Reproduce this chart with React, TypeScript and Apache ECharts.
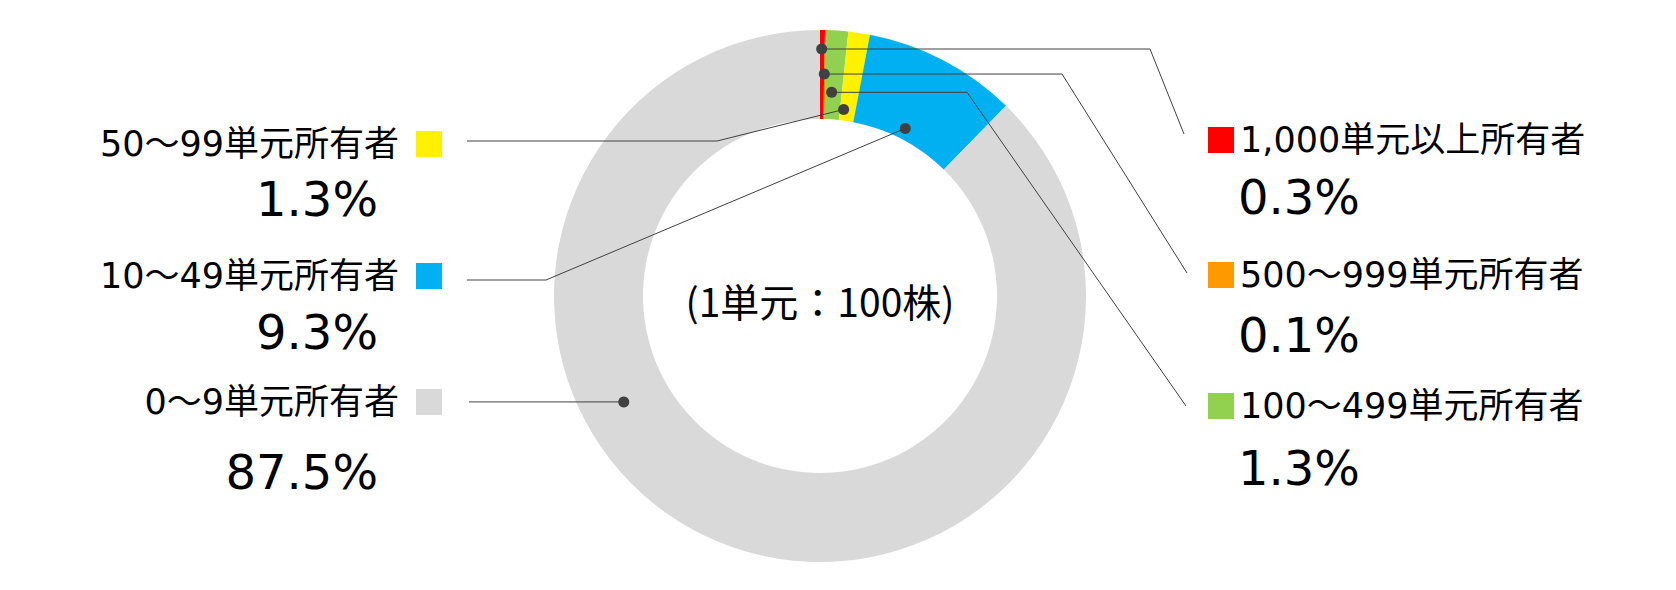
import React, { useEffect, useRef } from 'react';
import * as echarts from 'echarts';

// ---- data ----
const categories = [
  '1,000単元以上所有者',
  '500～999単元所有者',
  '100～499単元所有者',
  '50～99単元所有者',
  '10～49単元所有者',
  '0～9単元所有者',
];
const shares = [0.3, 0.1, 1.3, 1.3, 9.3, 87.5];
const sliceColors = ['#FF0000', '#FF9900', '#92D050', '#FFF100', '#00B0F0', '#D9D9D9'];
const centerNote = '(1単元：100株)';

// ---- layout (positions / styles, not data) ----
const CENTER = [820, 296];
const RADII = [177, 266];
const LINE_COLOR = '#404040';
const LABEL_FONT = "'DejaVu Sans', 'Noto Sans CJK JP', sans-serif";

type Side = 'left' | 'right';
interface LabelPlace {
  side: Side;
  anchorX: number; // square's outer edge
  squareY: number; // centre of first label line
  pctLineHeight: number;
  anchorFrac: number; // where inside the slice the leader line starts
  anchorR: number; // radial distance of the leader-line dot
  elbowX: number | null;
  end: [number, number | null];
}

const labelPlaces: LabelPlace[] = [
  { side: 'right', anchorX: 1208, squareY: 140, pctLineHeight: 74, anchorFrac: 0.36, anchorR: 247, elbowX: 1150, end: [1184, 134] },
  { side: 'right', anchorX: 1208, squareY: 275, pctLineHeight: 80, anchorFrac: 0.08, anchorR: 222, elbowX: 1062, end: [1187, 273] },
  { side: 'right', anchorX: 1208, squareY: 406, pctLineHeight: 84, anchorFrac: 0.39, anchorR: 204, elbowX: 967, end: [1186, 406] },
  { side: 'left', anchorX: 442, squareY: 144, pctLineHeight: 69, anchorFrac: 0.234, anchorR: 188, elbowX: 717, end: [467, 141] },
  { side: 'left', anchorX: 442, squareY: 276, pctLineHeight: 72, anchorFrac: 0.481, anchorR: 188, elbowX: 546, end: [467, 280] },
  { side: 'left', anchorX: 442, squareY: 402, pctLineHeight: 100, anchorFrac: 0.625, anchorR: 223, elbowX: null, end: [469, null] },
];

const total = shares.reduce((a, b) => a + b, 0);

function anchorPoint(i: number): [number, number] {
  let before = 0;
  for (let j = 0; j < i; j++) before += shares[j];
  const p = labelPlaces[i];
  const frac = (before + shares[i] * p.anchorFrac) / total;
  const theta = frac * Math.PI * 2;
  return [CENTER[0] + p.anchorR * Math.sin(theta), CENTER[1] - p.anchorR * Math.cos(theta)];
}

function leaderPoints(i: number): number[][] {
  const p = labelPlaces[i];
  const a = anchorPoint(i);
  if (p.side === 'right') {
    return [a, [p.elbowX as number, a[1]], [p.end[0], p.end[1] as number]];
  }
  if (p.elbowX == null) {
    const endY = p.end[1] == null ? a[1] : p.end[1];
    return [a, [p.end[0], endY]];
  }
  const y = p.end[1] as number;
  return [a, [p.elbowX, y], [p.end[0], y]];
}

function buildRich() {
  const rich: Record<string, any> = {
    name: { fontSize: 35, lineHeight: 40, fontFamily: LABEL_FONT, color: '#000' },
    gapR: { width: 6, height: 10, lineHeight: 10 },
    gapL: { width: 17, height: 10, lineHeight: 10 },
    padR: { width: 30, height: 10, lineHeight: 10 },
    padL: { width: 64, height: 10, lineHeight: 10 },
  };
  sliceColors.forEach((c, i) => {
    rich['sq' + i] = { width: 26, height: 26, backgroundColor: c };
    rich['pct' + i] = {
      fontSize: 48,
      lineHeight: labelPlaces[i].pctLineHeight,
      fontFamily: LABEL_FONT,
      color: '#000',
    };
  });
  return rich;
}

export default function App() {
  const ref = useRef<HTMLDivElement>(null);

  useEffect(() => {
    if (!ref.current) return;
    const chart = echarts.init(ref.current, null, { renderer: 'svg' });

    const data = categories.map((name, i) => ({
      name,
      value: shares[i],
      itemStyle: { color: sliceColors[i] },
    }));

    const leaders = categories.map((_, i) => ({
      type: 'polyline',
      z: 100,
      silent: true,
      shape: { points: leaderPoints(i) },
      style: { stroke: LINE_COLOR, lineWidth: 1, fill: null },
    }));

    const dots = categories.map((_, i) => {
      const [x, y] = anchorPoint(i);
      return {
        type: 'circle',
        z: 101,
        shape: { cx: x, cy: y, r: 5.5 },
        style: { fill: LINE_COLOR },
        silent: true,
      };
    });

    chart.setOption({
      animation: false,
      backgroundColor: '#ffffff',
      graphic: [
        ...leaders,
        ...dots,
        {
          type: 'text',
          z: 100,
          x: 820,
          y: 300,
          silent: true,
          style: {
            text: centerNote,
            fontSize: 39,
            fontFamily: "'Noto Sans CJK JP', sans-serif",
            fill: '#000',
            align: 'center',
            verticalAlign: 'middle',
          },
        },
      ],
      series: [
        {
          type: 'pie',
          center: CENTER,
          radius: RADII,
          startAngle: 90,
          clockwise: true,
          avoidLabelOverlap: false,
          emphasis: { disabled: true },
          silent: true,
          data,
          label: {
            show: true,
            position: 'outside',
            overflow: 'none',
            fontFamily: LABEL_FONT,
            color: '#000',
            formatter: (params: any) => {
              const i = params.dataIndex;
              const pct = Number(params.value).toFixed(1) + '%';
              if (labelPlaces[i].side === 'right') {
                return `{sq${i}|}{gapR|}{name|${params.name}}\n{padR|}{pct${i}|${pct}}`;
              }
              return `{name|${params.name}}{gapL|}{sq${i}|}\n{pct${i}|${pct}}{padL|}`;
            },
            rich: buildRich(),
          },
          labelLine: { show: false },
          labelLayout: (params: any) => {
            const i = params.dataIndex;
            const p = labelPlaces[i];
            return {
              x: p.anchorX,
              y: p.squareY - 20,
              align: p.side === 'right' ? 'left' : 'right',
              verticalAlign: 'top',
            };
          },
        },
      ],
    });

    return () => chart.dispose();
  }, []);

  return (
    <div
      ref={ref}
      style={{ position: 'fixed', left: 0, top: 0, width: '1676px', height: '590px', background: '#fff' }}
    />
  );
}
